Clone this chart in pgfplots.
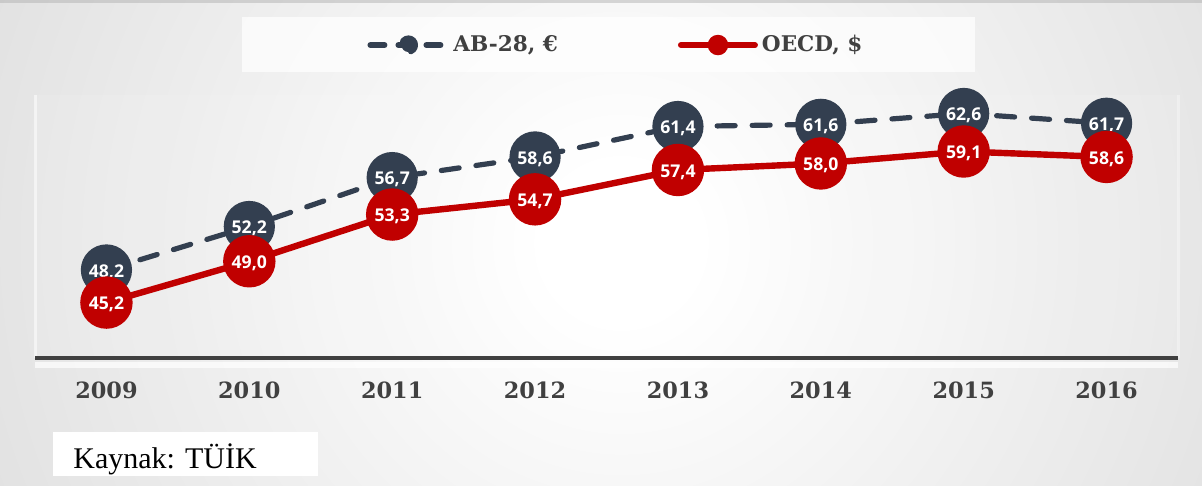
\documentclass[border=0pt]{standalone}
\usepackage{fontspec}
\setmainfont{Liberation Serif}
\newfontfamily\yearfont{DejaVu Serif}
\newfontfamily\lblfont{Open Sans}
\usepackage{pgfplots}
\pgfplotsset{compat=1.18}
\definecolor{abblue}{HTML}{333F50}
\definecolor{oecdred}{HTML}{C00000}
\definecolor{txtgray}{HTML}{404040}
\pgfdeclareradialshading{bgshade}{\pgfpoint{0bp}{0bp}}{color(0bp)=(white); color(3bp)=(white); color(50bp)=(gray!46); color(75bp)=(gray!50)}
\begin{document}
\begin{tikzpicture}[x=1pt,y=1pt]
\useasboundingbox (0,0) rectangle (601,243);
\begin{scope}
\clip (0,0) rectangle (601,243);
\shade[shading=bgshade] (-10,-200) rectangle (631,443);
\fill[white, opacity=0.10] (17.5,64) rectangle (589,195.5);
\draw[white, opacity=0.55, line width=1.5pt] (17.5,64) -- (17.5,195.5);
\draw[white, opacity=0.35, line width=1.5pt] (589,64) -- (589,195.5);
\draw[white, opacity=0.7, line width=3pt] (17.5,60.5) -- (589,60.5);
\fill[gray!60, opacity=0.5] (0,241.5) rectangle (601,243);
\end{scope}
\fill[white, opacity=0.72] (121,207) rectangle (487.5,234.5);
\fill[white] (26.5,5) rectangle (159,27);
\node[anchor=base west, inner sep=0pt, font=\fontsize{15}{18}\selectfont] at (36.5,9) {Kaynak: TÜİK};
\begin{axis}[
  at={(17.5pt,64pt)}, anchor=south west,
  scale only axis, width=571.5pt, height=131.5pt,
  xmin=-0.5, xmax=7.5, ymin=40.1, ymax=64.3,
  clip=false,
  axis y line=none, axis x line*=bottom,
  x axis line style={draw=txtgray, line width=2pt, -},
  xtick={0,1,2,3,4,5,6,7},
  xticklabels={2009,2010,2011,2012,2013,2014,2015,2016},
  major tick length=0pt,
  xticklabel style={anchor=center, yshift=-16pt, font=\yearfont\bfseries\fontsize{11.2}{13}\selectfont, text=txtgray},
  nodes near coords={\pgfmathprintnumber[fixed,fixed zerofill,precision=1,use comma,assume math mode=true]{\pgfplotspointmeta}},
  every node near coord/.append style={anchor=center, text=white, font=\lblfont\bfseries\fontsize{8.8}{10}\selectfont, text depth=0pt, yshift=-0.5pt, inner sep=0pt},
  legend columns=2,
  legend style={at={(0.2905,1.19)}, anchor=west, draw=none, fill=none, inner sep=0pt,
    font=\yearfont\bfseries\fontsize{10.8}{12}\selectfont, text=txtgray,
    /tikz/every even column/.append style={column sep=58pt}},
]
\addplot[abblue, line width=2.6pt, dash pattern=on 9pt off 8.5pt, line cap=round,
  mark=*, mark size=11.5pt, mark options={solid, fill=abblue, draw=none},
  legend image code/.code={\draw[abblue, line width=3pt, line cap=round, dash pattern=on 7pt off 7pt] (0pt,0pt) -- (38pt,0pt); \fill[abblue] (19pt,0pt) circle (3.5pt);}]
  coordinates {(0,48.2) (1,52.2) (2,56.7) (3,58.6) (4,61.4) (5,61.6) (6,62.6) (7,61.7)};
\addlegendentry{AB-28, €}
\addplot[oecdred, line width=3.2pt, line cap=round,
  mark=*, mark size=11.5pt, mark options={solid, fill=oecdred, draw=none},
  legend image code/.code={\draw[oecdred, line width=3pt, line cap=round] (0pt,0pt) -- (37pt,0pt); \fill[oecdred] (18.5pt,0pt) circle (3.5pt);}]
  coordinates {(0,45.2) (1,49.0) (2,53.3) (3,54.7) (4,57.4) (5,58.0) (6,59.1) (7,58.6)};
\addlegendentry{OECD, \$}
\end{axis}
\end{tikzpicture}
\end{document}
